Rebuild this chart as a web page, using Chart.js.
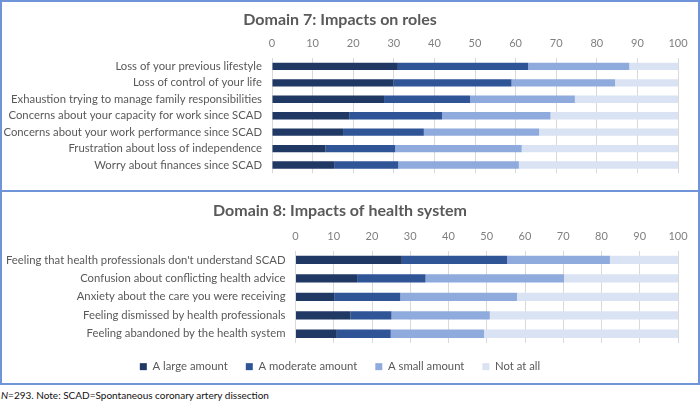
<!DOCTYPE html>
<html>
<head>
<meta charset="utf-8">
<script src="https://cdn.jsdelivr.net/npm/chart.js@4/dist/chart.umd.min.js"></script>
<style>
  html, body { margin: 0; padding: 0; background: #fff; }
  body { width: 700px; height: 412px; position: relative; overflow: hidden; font-family: Lato, "Noto Sans", sans-serif; }
  .panel { position: absolute; left: 0; width: 700px; box-sizing: border-box; border: 2px solid #6f94d8; }
  #p7 { top: 0; height: 192px; }
  #p8 { top: 190px; height: 195px; }
  canvas { position: absolute; left: 2px; }
  #note { position: absolute; left: 1px; top: 389px; font-size: 10px; color: #111; }
</style>
</head>
<body>
<div class="panel" id="p7"></div>
<div class="panel" id="p8"></div>
<canvas id="roles" width="696" height="188" style="top:2px"></canvas>
<canvas id="health" width="696" height="191" style="top:192px"></canvas>
<div id="note"><i>N</i>=293. Note: SCAD=Spontaneous coronary artery dissection</div>
<script>
  // Domain 7 — percent of respondents per response level
  const rolesLabels = [
    'Loss of your previous lifestyle',
    'Loss of control of your life',
    'Exhaustion trying to manage family responsibilities',
    'Concerns about your capacity for work since SCAD',
    'Concerns about your work performance since SCAD',
    'Frustration about loss of independence',
    'Worry about finances since SCAD'
  ];
  const rolesLarge    = [31.0, 29.9, 27.6, 19.0, 17.5, 13.2, 15.3];
  const rolesModerate = [32.1, 29.1, 21.2, 22.9, 19.9, 17.1, 15.8];
  const rolesSmall    = [24.9, 25.5, 25.8, 26.7, 28.4, 31.2, 29.7];
  const rolesNone     = [12.0, 15.5, 25.4, 31.4, 34.2, 38.5, 39.2];

  // Domain 8
  const healthLabels = [
    "Feeling that health professionals don't understand SCAD",
    'Confusion about conflicting health advice',
    'Anxiety about the care you were receiving',
    'Feeling dismissed by health professionals',
    'Feeling abandoned by the health system'
  ];
  const healthLarge    = [27.8, 16.1, 10.1, 14.4, 10.8];
  const healthModerate = [27.5, 17.9, 17.3, 10.7, 14.1];
  const healthSmall    = [26.9, 36.2, 30.5, 25.7, 24.4];
  const healthNone     = [17.8, 29.8, 42.1, 49.2, 50.7];

  const levelNames = ['A large amount', 'A moderate amount', 'A small amount', 'Not at all'];
  const levelColors = ['#203864', '#2f5597', '#8faadc', '#dae3f3'];

  const textGray = '#595959';
  const font = 'Lato, "Noto Sans", sans-serif';

  function buildChart(id, opts) {
    const series = opts.series;
    return new Chart(document.getElementById(id), {
      type: 'bar',
      data: {
        labels: opts.labels,
        datasets: series.map((vals, i) => ({
          label: levelNames[i],
          data: vals,
          backgroundColor: levelColors[i],
          borderWidth: 0,
          barPercentage: 0.45,
          categoryPercentage: 1
        }))
      },
      options: {
        indexAxis: 'y',
        responsive: false,
        animation: false,
        layout: { padding: { left: 0, right: 20, top: 0, bottom: 0 } },
        plugins: {
          title: {
            display: true,
            text: opts.title,
            color: textGray,
            font: { family: font, size: 16, weight: 'bold' },
            padding: { top: opts.titleTop, bottom: 4 }
          },
          legend: {
            display: opts.legend,
            position: 'bottom',
            labels: {
              color: textGray,
              boxWidth: 7,
              boxHeight: 7,
              padding: 18,
              font: { family: font, size: 11.3 }
            }
          },
          tooltip: { enabled: false }
        },
        scales: {
          x: {
            position: 'top',
            stacked: true,
            min: 0,
            max: 100,
            ticks: { stepSize: 10, color: '#7f7f7f', padding: 8, font: { family: font, size: 11 } },
            grid: { color: '#d9d9d9', drawTicks: false },
            border: { display: false },
            afterFit: (s) => { s.height = opts.xHeight; }
          },
          y: {
            stacked: true,
            ticks: { color: textGray, padding: 10, autoSkip: false, font: { family: font, size: 11.3 } },
            grid: { display: false, drawTicks: false },
            border: { display: false },
            afterFit: (s) => { s.width = opts.yWidth; }
          }
        }
      },
      plugins: opts.legend ? [{
        id: 'legendHeight',
        beforeInit(chart) {
          const fit = chart.legend.fit;
          chart.legend.fit = function() { fit.call(this); this.height = opts.legendHeight; };
        }
      }] : []
    });
  }

  buildChart('roles', {
    title: 'Domain 7: Impacts on roles',
    labels: rolesLabels,
    series: [rolesLarge, rolesModerate, rolesSmall, rolesNone],
    titleTop: 8,
    xHeight: 25,
    yWidth: 270,
    legend: false
  });

  buildChart('health', {
    title: 'Domain 8: Impacts of health system',
    labels: healthLabels,
    series: [healthLarge, healthModerate, healthSmall, healthNone],
    titleTop: 9,
    xHeight: 26.5,
    yWidth: 293.5,
    legend: true,
    legendHeight: 40
  });
</script>
</body>
</html>
